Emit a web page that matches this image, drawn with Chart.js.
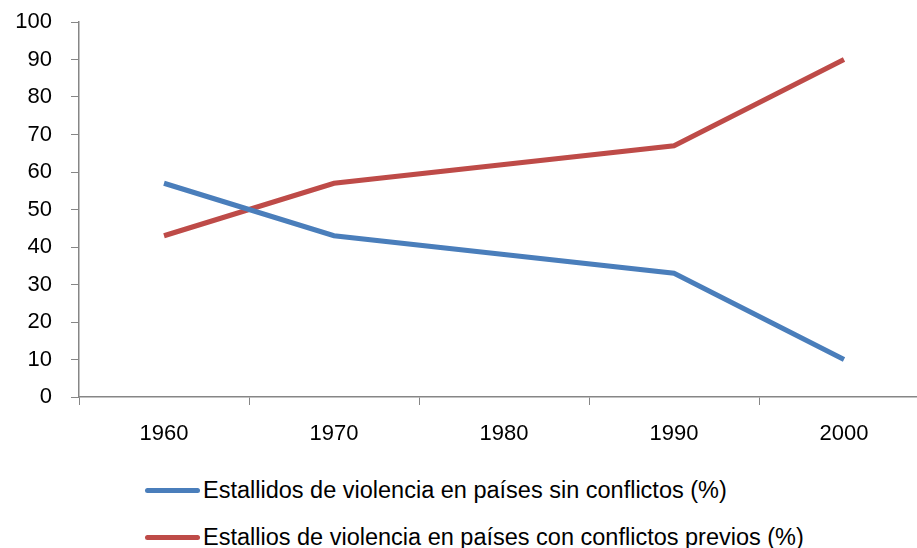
<!DOCTYPE html>
<html>
<head>
<meta charset="utf-8">
<script src="https://cdn.jsdelivr.net/npm/chart.js@4/dist/chart.umd.min.js"></script>
<style>
  html, body { margin: 0; padding: 0; background: #fff; overflow: hidden; }
  #wrap { position: relative; width: 917px; height: 548px; overflow: hidden; }
  #box { position: absolute; left: 0; top: 0; width: 929px; height: 460px; }
  .legend-item { position: absolute; left: 145px; display: flex; align-items: center; height: 28px;
    font-family: 'Liberation Sans', Arial, sans-serif; font-size: 23.5px; color: #000; white-space: nowrap; }
  .legend-item .swatch { width: 55px; height: 5px; border-radius: 3px; margin-right: 3px; }
</style>
</head>
<body>
<div id="wrap">
  <div id="box"><canvas id="chart"></canvas></div>
  <div id="legend"></div>
</div>
<script>
const years = ['1960', '1970', '1980', '1990', '2000'];
const sinConflictos = [57, 43, 38, 33, 10];
const conConflictos = [43, 57, 62, 67, 90];
const seriesNames = [
  'Estallidos de violencia en países sin conflictos (%)',
  'Estallios de violencia en países con conflictos previos (%)'
];
const seriesColors = ['#4A7EBB', '#BE4B48'];

const axisColor = '#868686';
const tickFont = { family: "'Liberation Sans', Arial, sans-serif", size: 22 };

new Chart(document.getElementById('chart'), {
  type: 'line',
  data: {
    labels: years,
    datasets: [
      { label: seriesNames[0], data: sinConflictos, borderColor: seriesColors[0], borderWidth: 5, pointRadius: 0, tension: 0, fill: false },
      { label: seriesNames[1], data: conConflictos, borderColor: seriesColors[1], borderWidth: 5, pointRadius: 0, tension: 0, fill: false }
    ]
  },
  options: {
    responsive: true,
    maintainAspectRatio: false,
    animation: false,
    layout: { padding: { top: 22, left: 0, right: 0, bottom: 0 } },
    plugins: { legend: { display: false }, tooltip: { enabled: false } },
    scales: {
      x: {
        offset: true,
        grid: { offset: true, drawOnChartArea: false, drawTicks: true, tickLength: 8, color: axisColor },
        border: { color: axisColor, width: 1.5 },
        ticks: { color: '#000', font: tickFont, padding: 16, maxRotation: 0 },
        afterFit: (scale) => { scale.height = 63; scale.paddingLeft = 0; scale.paddingRight = 0; }
      },
      y: {
        min: 0,
        max: 100,
        grid: { drawOnChartArea: false, drawTicks: true, tickLength: 8, color: axisColor },
        border: { color: axisColor, width: 1.5 },
        ticks: { stepSize: 10, color: '#000', font: tickFont, padding: 19 },
        afterFit: (scale) => { scale.width = 79; scale.paddingTop = 0; scale.paddingBottom = 0; }
      }
    }
  }
});

const legend = document.getElementById('legend');
const legendTops = [476, 523];
seriesNames.forEach((name, i) => {
  const item = document.createElement('div');
  item.className = 'legend-item';
  item.style.top = legendTops[i] + 'px';
  item.innerHTML = `<span class="swatch" style="background:${seriesColors[i]}"></span><span>${name}</span>`;
  legend.appendChild(item);
});
</script>
</body>
</html>
